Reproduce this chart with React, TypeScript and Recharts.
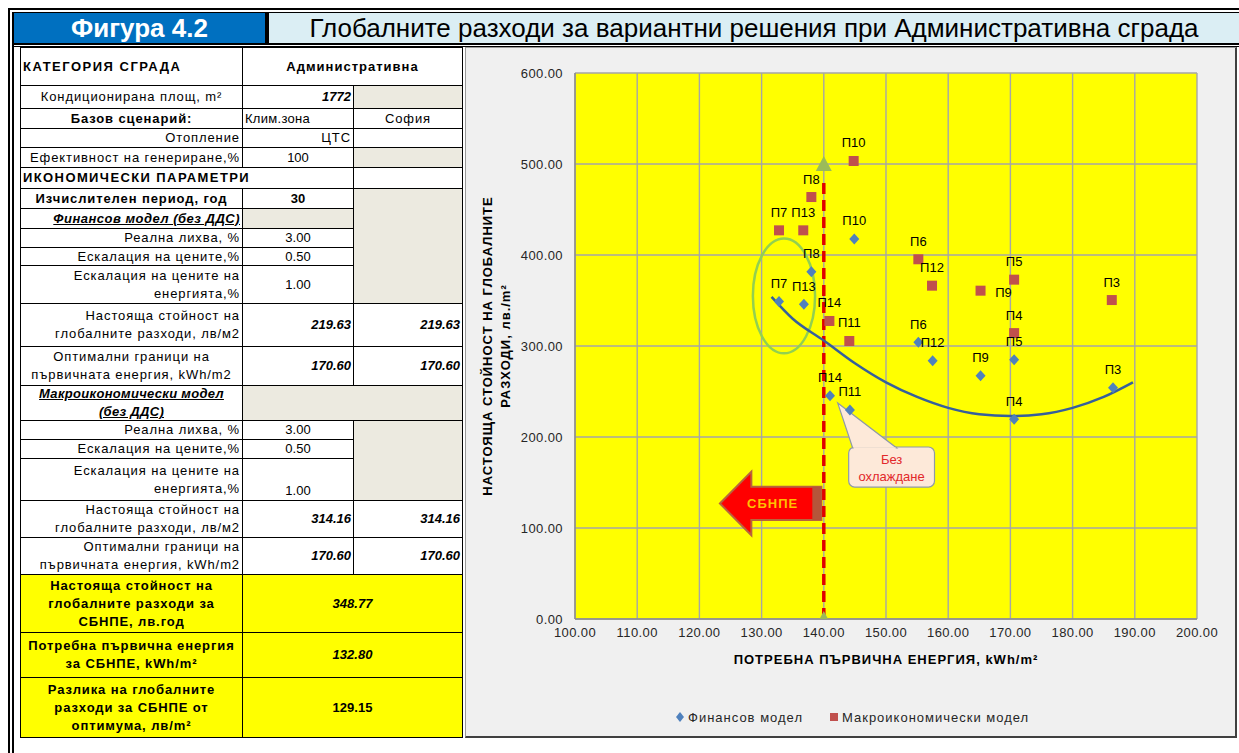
import { ComposedChart, Scatter, Line, XAxis, YAxis, CartesianGrid, ReferenceLine, ReferenceArea } from "recharts";

const FONT = "'Liberation Sans', Arial, sans-serif";

// axis ticks
const xTicks = [100, 110, 120, 130, 140, 150, 160, 170, 180, 190, 200];
const yTicks = [0, 100, 200, 300, 400, 500, 600];

// Финансов модел
const finNames = ["П7", "П13", "П8", "П10", "П14", "П11", "П6", "П12", "П9", "П5", "П4", "П3"];
const finX = [132.8, 136.8, 138.0, 144.9, 141.0, 144.2, 155.2, 157.5, 165.2, 170.6, 170.6, 186.5];
const finY = [348.77, 345.8, 381.7, 417.6, 245.4, 229.7, 304.0, 283.9, 267.4, 285.0, 219.63, 254.0];

// Макроикономически модел
const macroNames = ["П7", "П13", "П8", "П10", "П14", "П11", "П6", "П12", "П9", "П5", "П4", "П3"];
const macroX = [132.8, 136.7, 138.0, 144.8, 140.9, 144.1, 155.2, 157.4, 165.2, 170.6, 170.6, 186.3];
const macroY = [427.1, 427.1, 463.7, 503.3, 327.5, 305.5, 395.3, 366.3, 360.8, 372.9, 314.16, 350.5];

// trend curve of the financial model
const trendX = [131.6, 135, 140, 145, 150, 155, 160, 165, 170, 175, 180, 185, 189.7];
const trendY = [354, 330, 306, 281, 260, 244, 232, 225, 223, 225, 232, 244, 260];

// СБНПЕ marker line
const sbnpeX = [140, 140];
const sbnpeY = [0, 500];

const seriesNames = ["Финансов модел", "Макроикономически модел"];

const finData = finNames.map((name, i) => ({ name, x: finX[i], y: finY[i] }));
const macroData = macroNames.map((name, i) => ({ name, x: macroX[i], y: macroY[i] }));
const trendData = trendX.map((x, i) => ({ x, y: trendY[i] }));
const sbnpeData = sbnpeX.map((x, i) => ({ x, y: sbnpeY[i] }));

const macroLabelRight = ["П9"];

// table
const colX = [20, 242, 353, 462];
const rowY = [47, 85, 108, 128, 147, 167, 188, 208, 228, 247, 265, 303, 346, 385, 420, 439, 458, 500, 537, 574, 632, 677, 737];

type Cell = { r: [number, number]; c: [number, number]; t: string; a?: "left" | "center" | "right"; s?: string; bg?: string; v?: "end"; ls?: number };
const BEIGE = "#eceae0";
const YEL = "#ffff00";
const cells: Cell[] = [
  { r: [0, 1], c: [0, 1], t: "КАТЕГОРИЯ  СГРАДА", a: "left", s: "b", ls: 1.5 },
  { r: [0, 1], c: [1, 3], t: "Административна", s: "b", ls: 1 },
  { r: [1, 2], c: [0, 1], t: "Кондиционирана площ, m²" },
  { r: [1, 2], c: [1, 2], t: "1772", a: "right", s: "bi" },
  { r: [1, 2], c: [2, 3], t: "", bg: BEIGE },
  { r: [2, 3], c: [0, 1], t: "Базов сценарий:", s: "b" },
  { r: [2, 3], c: [1, 2], t: "Клим.зона", a: "left", ls: 0.3 },
  { r: [2, 3], c: [2, 3], t: "София" },
  { r: [3, 4], c: [0, 1], t: "Отопление", a: "right" },
  { r: [3, 4], c: [1, 2], t: "ЦТС", a: "right" },
  { r: [3, 4], c: [2, 3], t: "" },
  { r: [4, 5], c: [0, 1], t: "Ефективност на генериране,%", a: "right" },
  { r: [4, 5], c: [1, 2], t: "100" },
  { r: [4, 5], c: [2, 3], t: "", bg: BEIGE },
  { r: [5, 6], c: [0, 2], t: "ИКОНОМИЧЕСКИ ПАРАМЕТРИ", a: "left", s: "b", ls: 1.4 },
  { r: [5, 6], c: [2, 3], t: "" },
  { r: [6, 7], c: [0, 1], t: "Изчислителен период, год", s: "b" },
  { r: [6, 7], c: [1, 2], t: "30", s: "b" },
  { r: [6, 11], c: [2, 3], t: "", bg: BEIGE },
  { r: [7, 8], c: [0, 1], t: "Финансов модел (без ДДС)", a: "right", s: "biu", ls: 0.5 },
  { r: [7, 8], c: [1, 2], t: "", bg: BEIGE },
  { r: [8, 9], c: [0, 1], t: "Реална лихва, %", a: "right" },
  { r: [8, 9], c: [1, 2], t: "3.00" },
  { r: [9, 10], c: [0, 1], t: "Ескалация на цените,%", a: "right" },
  { r: [9, 10], c: [1, 2], t: "0.50" },
  { r: [10, 11], c: [0, 1], t: "Ескалация на цените на\nенергията,%", a: "right" },
  { r: [10, 11], c: [1, 2], t: "1.00" },
  { r: [11, 12], c: [0, 1], t: "Настояща стойност на\nглобалните разходи, лв/м2", a: "right" },
  { r: [11, 12], c: [1, 2], t: "219.63", a: "right", s: "bi" },
  { r: [11, 12], c: [2, 3], t: "219.63", a: "right", s: "bi" },
  { r: [12, 13], c: [0, 1], t: "Оптимални граници на\nпървичната енергия, kWh/m2" },
  { r: [12, 13], c: [1, 2], t: "170.60", a: "right", s: "bi" },
  { r: [12, 13], c: [2, 3], t: "170.60", a: "right", s: "bi" },
  { r: [13, 14], c: [0, 1], t: "Макроикономически модел\n(без ДДС)", s: "biu", ls: 0.3 },
  { r: [13, 14], c: [1, 3], t: "", bg: BEIGE },
  { r: [14, 15], c: [0, 1], t: "Реална лихва, %", a: "right" },
  { r: [14, 15], c: [1, 2], t: "3.00" },
  { r: [14, 17], c: [2, 3], t: "", bg: BEIGE },
  { r: [15, 16], c: [0, 1], t: "Ескалация на цените,%", a: "right" },
  { r: [15, 16], c: [1, 2], t: "0.50" },
  { r: [16, 17], c: [0, 1], t: "Ескалация на цените на\nенергията,%", a: "right" },
  { r: [16, 17], c: [1, 2], t: "1.00", v: "end" },
  { r: [17, 18], c: [0, 1], t: "Настояща стойност на\nглобалните разходи, лв/м2", a: "right" },
  { r: [17, 18], c: [1, 2], t: "314.16", a: "right", s: "bi" },
  { r: [17, 18], c: [2, 3], t: "314.16", a: "right", s: "bi" },
  { r: [18, 19], c: [0, 1], t: "Оптимални граници на\nпървичната енергия, kWh/m2", a: "right" },
  { r: [18, 19], c: [1, 2], t: "170.60", a: "right", s: "bi" },
  { r: [18, 19], c: [2, 3], t: "170.60", a: "right", s: "bi" },
  { r: [19, 20], c: [0, 1], t: "Настояща стойност на\nглобалните разходи за\nСБНПЕ, лв.год", s: "b", bg: YEL },
  { r: [19, 20], c: [1, 3], t: "348.77", s: "bi", bg: YEL },
  { r: [20, 21], c: [0, 1], t: "Потребна първична енергия\nза СБНПЕ, kWh/m²", s: "b", bg: YEL },
  { r: [20, 21], c: [1, 3], t: "132.80", s: "bi", bg: YEL },
  { r: [21, 22], c: [0, 1], t: "Разлика на глобалните\nразходи за СБНПЕ от\nоптимума, лв/m²", s: "b", bg: YEL },
  { r: [21, 22], c: [1, 3], t: "129.15", s: "b", bg: YEL },
];

function Diamond(p: any) {
  const { cx, cy, payload } = p;
  return (
    <g>
      <polygon points={`${cx},${cy - 5.5} ${cx + 5},${cy} ${cx},${cy + 5.5} ${cx - 5},${cy}`} fill="#4f81bd" />
      <text x={cx} y={cy - 18} textAnchor="middle" dominantBaseline="central" fontSize={13} fontFamily={FONT} fill="#000">{payload.name}</text>
    </g>
  );
}

function Square(p: any) {
  const { cx, cy, payload } = p;
  const right = macroLabelRight.includes(payload.name);
  return (
    <g>
      <rect x={cx - 5} y={cy - 5} width={10} height={10} fill="#c0504d" />
      <text x={right ? cx + 23 : cx} y={right ? cy + 2 : cy - 18} textAnchor="middle" dominantBaseline="central" fontSize={13} fontFamily={FONT} fill="#000">{payload.name}</text>
    </g>
  );
}

function Triangle(p: any) {
  const { cx, cy } = p;
  return <polygon points={`${cx},${cy - 8} ${cx + 8},${cy + 7} ${cx - 8},${cy + 7}`} fill="#9bbb59" />;
}

function EllipseShape(p: any) {
  const { x, y, width, height } = p;
  return <ellipse cx={x + width / 2} cy={y + height / 2} rx={width / 2} ry={height / 2} fill="none" stroke="#92d050" strokeWidth={2.5} />;
}

function ArrowShape(p: any) {
  const { x, y, width: w, height: h } = p;
  const hx = x + w * 0.31;
  const t = y + h * 0.24;
  const b = y + h * 0.76;
  const m = y + h / 2;
  return (
    <g>
      <polygon points={`${x},${m} ${hx},${y} ${hx},${t} ${x + w},${t} ${x + w},${b} ${hx},${b} ${hx},${y + h}`} fill="#ff0000" stroke="#b8643c" strokeWidth={2} strokeLinejoin="miter" />
      <rect x={x + w - 9} y={t} width={9} height={b - t} fill="#b5553a" />
      <text x={x + w * 0.52} y={m} textAnchor="middle" dominantBaseline="central" fontSize={13} fontWeight="bold" letterSpacing={1} fontFamily={FONT} fill="#ffc000">СБНПЕ</text>
    </g>
  );
}

function CalloutShape(p: any) {
  const { x, y, width: w, height: h } = p;
  return (
    <g>
      <rect x={x} y={y} width={w} height={h} rx={6} fill="#fde9d9" stroke="#8e9aa8" strokeWidth={1.2} />
      <polygon points={`${x + 4},${y + 1} ${x - 11},${y - 44} ${x + 48},${y + 1}`} fill="#fde9d9" stroke="#8e9aa8" strokeWidth={1.2} />
      <line x1={x + 5} y1={y + 1.5} x2={x + 47} y2={y + 1.5} stroke="#fde9d9" strokeWidth={2.5} />
      <text x={x + w / 2} y={y + 12} textAnchor="middle" dominantBaseline="central" fontSize={13} fontFamily={FONT} fill="#e2282a">Без</text>
      <text x={x + w / 2} y={y + 29} textAnchor="middle" dominantBaseline="central" fontSize={13} fontFamily={FONT} fill="#e2282a">охлаждане</text>
    </g>
  );
}

const fmt = (v: number) => v.toFixed(2);
const tickStyle = { fontSize: 13, fill: "#262626", fontFamily: FONT, letterSpacing: 0.4 };

function YLabel(props: any) {
  const vb = props.viewBox;
  const cy = vb.y + vb.height / 2;
  const x1 = vb.x + 21;
  const x2 = vb.x + 39;
  return (
    <g fontFamily={FONT} fontSize={13} fontWeight="bold" fill="#000" letterSpacing={1}>
      <text x={x1} y={cy} transform={`rotate(-90, ${x1}, ${cy})`} textAnchor="middle" dominantBaseline="central">НАСТОЯЩА СТОЙНОСТ НА ГЛОБАЛНИТЕ</text>
      <text x={x2} y={cy} transform={`rotate(-90, ${x2}, ${cy})`} textAnchor="middle" dominantBaseline="central">РАЗХОДИ, лв./m²</text>
    </g>
  );
}

function XLabel(props: any) {
  const vb = props.viewBox;
  return (
    <text x={vb.x + vb.width / 2} y={vb.y + 40} textAnchor="middle" dominantBaseline="central" fontFamily={FONT} fontSize={13} fontWeight="bold" letterSpacing={1} fill="#000">
      ПОТРЕБНА ПЪРВИЧНА ЕНЕРГИЯ, kWh/m²
    </text>
  );
}

function TableCell({ cell }: { cell: Cell }) {
  const s = cell.s || "";
  const left = colX[cell.c[0]];
  const top = rowY[cell.r[0]];
  const numeric = /^[\d.]+$/.test(cell.t);
  return (
    <div
      style={{
        position: "absolute",
        left,
        top,
        width: colX[cell.c[1]] - left + 1,
        height: rowY[cell.r[1]] - top + 1,
        boxSizing: "border-box",
        border: "1px solid #000",
        background: cell.bg || "#fff",
        display: "flex",
        flexDirection: "column",
        justifyContent: cell.v === "end" ? "flex-end" : "center",
        padding: "0 2px",
        textAlign: cell.a || "center",
        whiteSpace: "pre-line",
        fontSize: 13,
        lineHeight: "18px",
        letterSpacing: cell.ls ?? (numeric ? 0 : 0.9),
        fontWeight: s.includes("b") ? "bold" : "normal",
        fontStyle: s.includes("i") ? "italic" : "normal",
        textDecoration: s.includes("u") ? "underline" : "none",
        color: "#000",
      }}
    >
      {cell.t}
    </div>
  );
}

export default function App() {
  return (
    <div style={{ position: "absolute", left: 0, top: 0, width: 1239, height: 753, background: "#fff", overflow: "hidden", fontFamily: FONT }}>
      {/* outer frame */}
      <div style={{ position: "absolute", left: 8, top: 8, width: 1231, height: 2, background: "#000" }} />
      <div style={{ position: "absolute", left: 8, top: 8, width: 2, height: 745, background: "#000" }} />
      <div style={{ position: "absolute", left: 12, top: 12, width: 1227, height: 1, background: "#000" }} />
      <div style={{ position: "absolute", left: 12, top: 12, width: 2, height: 741, background: "#000" }} />
      {/* header */}
      <div style={{ position: "absolute", left: 14, top: 13, width: 251, height: 30, background: "#0070c0", color: "#fff", fontWeight: "bold", fontSize: 26, lineHeight: "31px", textAlign: "center" }}>
        Фигура 4.2
      </div>
      <div style={{ position: "absolute", left: 265, top: 13, width: 4, height: 30, background: "#000" }} />
      <div style={{ position: "absolute", left: 269, top: 13, width: 970, height: 30, background: "#dbeef4", color: "#000", fontSize: 26, lineHeight: "31px", textAlign: "center" }}>
        Глобалните разходи за вариантни решения при Административна сграда
      </div>
      <div style={{ position: "absolute", left: 12, top: 43, width: 1227, height: 2, background: "#000" }} />
      <div style={{ position: "absolute", left: 12, top: 46, width: 1227, height: 1, background: "#000" }} />

      {/* table */}
      {cells.map((c, i) => <TableCell key={i} cell={c} />)}

      {/* chart panel */}
      <div style={{ position: "absolute", left: 465, top: 47, width: 772, height: 691, boxSizing: "border-box", background: "#f0f0f0", borderTop: "1px solid #9a9a9a", borderLeft: "1px solid #9a9a9a", borderRight: "2px solid #404040", borderBottom: "2px solid #404040" }} />
      <div style={{ position: "absolute", left: 466, top: 46 }}>
        <ComposedChart width={771} height={692} margin={{ top: 27, right: 40, left: 0, bottom: 0 }}>
          <CartesianGrid fill="#ffff00" stroke="#a6a6a6" strokeWidth={1.4} />
          <XAxis
            type="number"
            dataKey="x"
            domain={[100, 200]}
            ticks={xTicks}
            allowDataOverflow
            tickFormatter={fmt}
            tick={tickStyle}
            tickLine={false}
            tickSize={0}
            tickMargin={9}
            axisLine={{ stroke: "#8c8c8c", strokeWidth: 1.4 }}
            height={119}
            label={{ content: XLabel }}
          />
          <YAxis
            type="number"
            dataKey="y"
            domain={[0, 600]}
            ticks={yTicks}
            allowDataOverflow
            tickFormatter={fmt}
            tick={tickStyle}
            tickLine={false}
            tickSize={0}
            tickMargin={12}
            axisLine={{ stroke: "#8c8c8c", strokeWidth: 1.4 }}
            width={109}
            label={{ content: YLabel }}
          />
          <ReferenceArea x1={128.6} x2={138.6} y1={292} y2={418} ifOverflow="visible" shape={EllipseShape} />
          <ReferenceArea x1={123.3} x2={139.6} y1={92} y2={162} ifOverflow="visible" shape={ArrowShape} />
          <ReferenceLine segment={[{ x: 140, y: 0 }, { x: 140, y: 480 }]} stroke="#e00000" strokeWidth={3.5} strokeDasharray="11 6" ifOverflow="visible" />
          <Line data={trendData} dataKey="y" type="monotone" stroke="#365f9c" strokeWidth={2.5} dot={false} activeDot={false} isAnimationActive={false} />
          <Scatter name={seriesNames[1]} data={macroData} shape={Square} isAnimationActive={false} />
          <Scatter name={seriesNames[0]} data={finData} shape={Diamond} isAnimationActive={false} />
          <Scatter data={sbnpeData} shape={Triangle} isAnimationActive={false} />
          <ReferenceArea x1={144} x2={157.8} y1={145} y2={189} ifOverflow="visible" shape={CalloutShape} />
        </ComposedChart>
      </div>

      {/* legend */}
      <div style={{ position: "absolute", left: 675, top: 708, height: 18, display: "flex", alignItems: "center", fontSize: 13, letterSpacing: 1, color: "#262626" }}>
        <svg width={10} height={10} style={{ marginRight: 3 }}>
          <polygon points="5,0 9,5 5,10 1,5" fill="#4f81bd" />
        </svg>
        <span>{seriesNames[0]}</span>
        <svg width={10} height={10} style={{ marginLeft: 26, marginRight: 3 }}>
          <rect x={1} y={1} width={8} height={8} fill="#c0504d" />
        </svg>
        <span>{seriesNames[1]}</span>
      </div>
    </div>
  );
}
